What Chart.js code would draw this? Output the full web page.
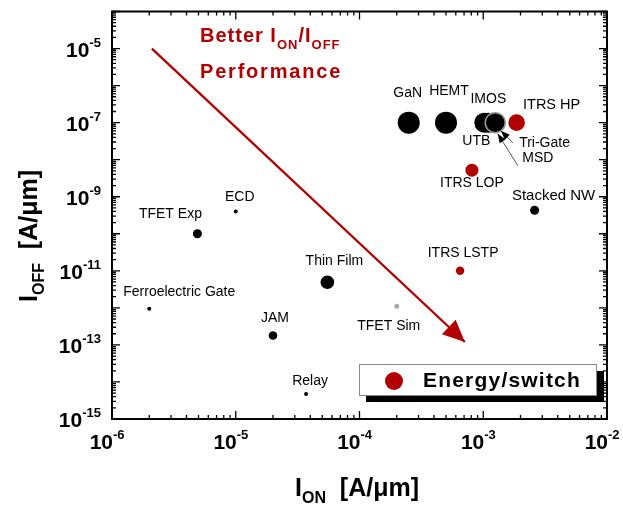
<!DOCTYPE html>
<html>
<head>
  <meta charset="utf-8">
  <title>ION vs IOFF benchmark</title>
  <style>
    html, body { margin: 0; padding: 0; background: #fff; }
  </style>
</head>
<body>
<script src="https://cdn.jsdelivr.net/npm/chart.js"></script>
<canvas id="chart" width="623" height="508"></canvas>
<script>
// axis ranges (A/um) and labelled decades
const xMin = 1e-6, xMax = 1e-2;
const yMin = 1e-15, yMax = 1e-4;
const xTickExps = [-6, -5, -4, -3, -2];
const yTickExps = [-15, -13, -11, -9, -7, -5];

// devices
const devices = ['Ferroelectric Gate', 'TFET Exp', 'ECD', 'JAM', 'Relay', 'Thin Film', 'TFET Sim',
  'GaN', 'HEMT', 'UTB', 'IMOS', 'Tri-Gate', 'MSD', 'ITRS LSTP', 'ITRS LOP', 'ITRS HP', 'Stacked NW'];
const ionValues = [2.0e-6, 4.9e-6, 1.0e-5, 2.0e-5, 3.7e-5, 5.5e-5, 2.0e-4,
  2.5e-4, 5.0e-4, 1.02e-3, 1.1e-3, 1.18e-3, 1.25e-3, 6.5e-4, 8.1e-4, 1.86e-3, 2.6e-3];
const ioffValues = [9.4e-13, 1.0e-10, 4.0e-10, 1.8e-13, 4.7e-15, 4.9e-12, 1.1e-12,
  1.0e-7, 1.0e-7, 1.0e-7, 1.0e-7, 1.0e-7, 1.0e-7, 1.0e-11, 5.2e-9, 1.0e-7, 4.3e-10];
const deviceKind = ['exp', 'exp', 'exp', 'exp', 'exp', 'exp', 'sim',
  'exp', 'exp', 'exp', 'exp', 'exp', 'exp', 'itrs', 'itrs', 'itrs', 'exp'];

// "better performance" arrow and the two pointer arrows (data coords)
const trendArrow = [[2.1e-6, 1.0e-5], [7.1e-4, 1.2e-13]];
const pointerArrows = [
  [[1.74e-3, 2.8e-8], [1.39e-3, 6.0e-8]],
  [[1.91e-3, 6.8e-9], [1.31e-3, 5.0e-8]]
];

// ---- styling ----
const RED = '#b00000';
const FONT = "'Liberation Sans', Arial, sans-serif";
const kindColor = { exp: '#000000', itrs: RED, sim: '#aaaaaa' };
const markerRadius = [2, 4.5, 2, 4.3, 2, 6.8, 2.5, 11, 11, 10, 10, 10, 10, 4.2, 6.5, 8.3, 4.5];
// label offset from its marker: [dx, dy, align, size]
const labelOffset = [
  [30, -17], [-27, -20], [4, -14], [2, -17], [4, -13], [7, -21], [-8, 20],
  [-1, -29], [3, -31], [-8, 19], [0, -23], [27, 21, 'left'], [27, 36, 'left'],
  [3, -18], [0, 13], [35, -18, 'center', 14.5], [19, -14, 'center', 15]
];

const points = ionValues.map((v, i) => ({ x: v, y: ioffValues[i] }));

// draw a run of [text, size, dy] pieces; returns total width
function richText(ctx, pieces, x, y, measureOnly) {
  let cx = x;
  pieces.forEach(([t, size, dy]) => {
    ctx.font = 'bold ' + size + 'px ' + FONT;
    if (!measureOnly) ctx.fillText(t, cx, y + (dy || 0));
    cx += ctx.measureText(t).width;
  });
  return cx - x;
}

function arrowHead(ctx, x0, y0, x1, y1, len, half) {
  const a = Math.atan2(y1 - y0, x1 - x0);
  ctx.beginPath();
  ctx.moveTo(x1, y1);
  ctx.lineTo(x1 - len * Math.cos(a) + half * Math.sin(a), y1 - len * Math.sin(a) - half * Math.cos(a));
  ctx.lineTo(x1 - len * Math.cos(a) - half * Math.sin(a), y1 - len * Math.sin(a) + half * Math.cos(a));
  ctx.closePath();
  ctx.fill();
}

const decor = {
  id: 'decor',
  afterDatasetsDraw(chart) {
    const { ctx, scales: { x, y } } = chart;
    ctx.save();
    // red arrowhead
    const p0 = [x.getPixelForValue(trendArrow[0][0]), y.getPixelForValue(trendArrow[0][1])];
    const p1 = [x.getPixelForValue(trendArrow[1][0]), y.getPixelForValue(trendArrow[1][1])];
    ctx.fillStyle = RED;
    arrowHead(ctx, p0[0], p0[1], p1[0], p1[1], 22, 10);
    // pointer arrows
    ctx.strokeStyle = '#555';
    ctx.fillStyle = '#000';
    ctx.lineWidth = 1;
    pointerArrows.forEach(([a, b]) => {
      const ax = x.getPixelForValue(a[0]), ay = y.getPixelForValue(a[1]);
      const bx = x.getPixelForValue(b[0]), by = y.getPixelForValue(b[1]);
      ctx.beginPath(); ctx.moveTo(ax, ay); ctx.lineTo(bx, by); ctx.stroke();
      arrowHead(ctx, ax, ay, bx, by, 9, 3.5);
    });
    // point labels
    ctx.fillStyle = '#000';
    ctx.textBaseline = 'middle';
    devices.forEach((name, i) => {
      const [dx, dy, align, size] = labelOffset[i];
      ctx.font = (size || 14) + 'px ' + FONT;
      ctx.textAlign = align || 'center';
      ctx.fillText(name, x.getPixelForValue(ionValues[i]) + dx, y.getPixelForValue(ioffValues[i]) + dy);
    });
    ctx.restore();
  },
  afterDraw(chart) {
    const { ctx, chartArea: a, scales: { x, y } } = chart;
    ctx.save();
    // frame
    ctx.strokeStyle = '#000';
    ctx.lineWidth = 2;
    ctx.strokeRect(a.left, a.top, a.right - a.left, a.bottom - a.top);
    // ticks on all four sides
    ctx.lineWidth = 1.3;
    ctx.beginPath();
    for (let e = Math.log10(xMin); e <= Math.log10(xMax); e++) {
      for (let m = 1; m < 10; m++) {
        const v = m * Math.pow(10, e);
        if (v > xMax * 1.001) break;
        const px = x.getPixelForValue(v), len = m === 1 ? 8 : 4;
        ctx.moveTo(px, a.bottom); ctx.lineTo(px, a.bottom - len);
        ctx.moveTo(px, a.top); ctx.lineTo(px, a.top + len);
      }
    }
    for (let e = Math.log10(yMin); e <= Math.log10(yMax); e++) {
      for (let m = 1; m < 10; m++) {
        const v = m * Math.pow(10, e);
        if (v > yMax * 1.001) break;
        const py = y.getPixelForValue(v), len = m === 1 ? 8 : 4;
        ctx.moveTo(a.left, py); ctx.lineTo(a.left + len, py);
        ctx.moveTo(a.right, py); ctx.lineTo(a.right - len, py);
      }
    }
    ctx.stroke();

    // tick labels 10^n
    ctx.fillStyle = '#000';
    ctx.textAlign = 'left';
    ctx.textBaseline = 'alphabetic';
    xTickExps.forEach(e => {
      ctx.font = 'bold 21px ' + FONT;
      const w10 = ctx.measureText('10').width;
      richText(ctx, [['10', 21, 0], [String(e), 13, -10]], x.getPixelForValue(Math.pow(10, e)) - w10 + 1, 449);
    });
    yTickExps.forEach(e => {
      const pcs = [['10', 21, 0], [String(e), 13, -10]];
      const w = richText(ctx, pcs, 0, 0, true);
      richText(ctx, pcs, 101 - w, y.getPixelForValue(Math.pow(10, e)) + 8);
    });

    // axis titles
    const xTitle = [['I', 25, 0], ['ON', 16, 7], ['  [A/\u03bcm]', 25, 0]];
    const xw = richText(ctx, xTitle, 0, 0, true);
    richText(ctx, xTitle, 357 - xw / 2, 496);
    const yTitle = [['I', 25, 0], ['OFF', 16, 7], ['  [A/\u03bcm]', 25, 0]];
    const yw = richText(ctx, yTitle, 0, 0, true);
    ctx.save();
    ctx.translate(37, 236);
    ctx.rotate(-Math.PI / 2);
    richText(ctx, yTitle, -yw / 2, 0);
    ctx.restore();

    // annotation text
    ctx.fillStyle = RED;
    ctx.letterSpacing = '1px';
    richText(ctx, [['Better I', 20, 0], ['ON', 13, 7], ['/I', 20, 0], ['OFF', 13, 7]], 200, 42);
    ctx.font = 'bold 20px ' + FONT;
    ctx.letterSpacing = '1.8px';
    ctx.fillText('Performance', 200, 78);
    ctx.letterSpacing = '0px';

    // legend box with drop shadow
    ctx.fillStyle = '#000';
    ctx.fillRect(366, 371, 238, 31);
    ctx.fillStyle = '#fff';
    ctx.fillRect(359, 364, 238, 32);
    ctx.strokeStyle = '#888';
    ctx.lineWidth = 1;
    ctx.strokeRect(359.5, 364.5, 237, 31);
    ctx.fillStyle = RED;
    ctx.beginPath();
    ctx.arc(394, 381, 9, 0, Math.PI * 2);
    ctx.fill();
    ctx.fillStyle = '#000';
    ctx.font = 'bold 21px ' + FONT;
    ctx.letterSpacing = '1.2px';
    ctx.textBaseline = 'middle';
    ctx.fillText('Energy/switch', 423, 381);
    ctx.restore();
  }
};

new Chart(document.getElementById('chart'), {
  type: 'scatter',
  data: {
    datasets: [
      {
        data: points,
        pointRadius: markerRadius,
        pointBackgroundColor: deviceKind.map(k => kindColor[k]),
        pointBorderColor: devices.map(d => d === 'MSD' ? '#999' : 'rgba(0,0,0,0)'),
        pointBorderWidth: devices.map(d => d === 'MSD' ? 1.5 : 0),
        order: 1
      },
      {
        type: 'line',
        data: trendArrow.map(p => ({ x: p[0], y: p[1] })),
        borderColor: RED,
        borderWidth: 2.3,
        pointRadius: 0,
        showLine: true,
        order: 2
      }
    ]
  },
  options: {
    responsive: false,
    animation: false,
    layout: { padding: { left: 112, right: 16, top: 11, bottom: 89 } },
    plugins: { legend: { display: false }, tooltip: { enabled: false } },
    scales: {
      x: { type: 'logarithmic', min: xMin, max: xMax, display: false },
      y: { type: 'logarithmic', min: yMin, max: yMax, display: false }
    }
  },
  plugins: [decor]
});
</script>
</body>
</html>
